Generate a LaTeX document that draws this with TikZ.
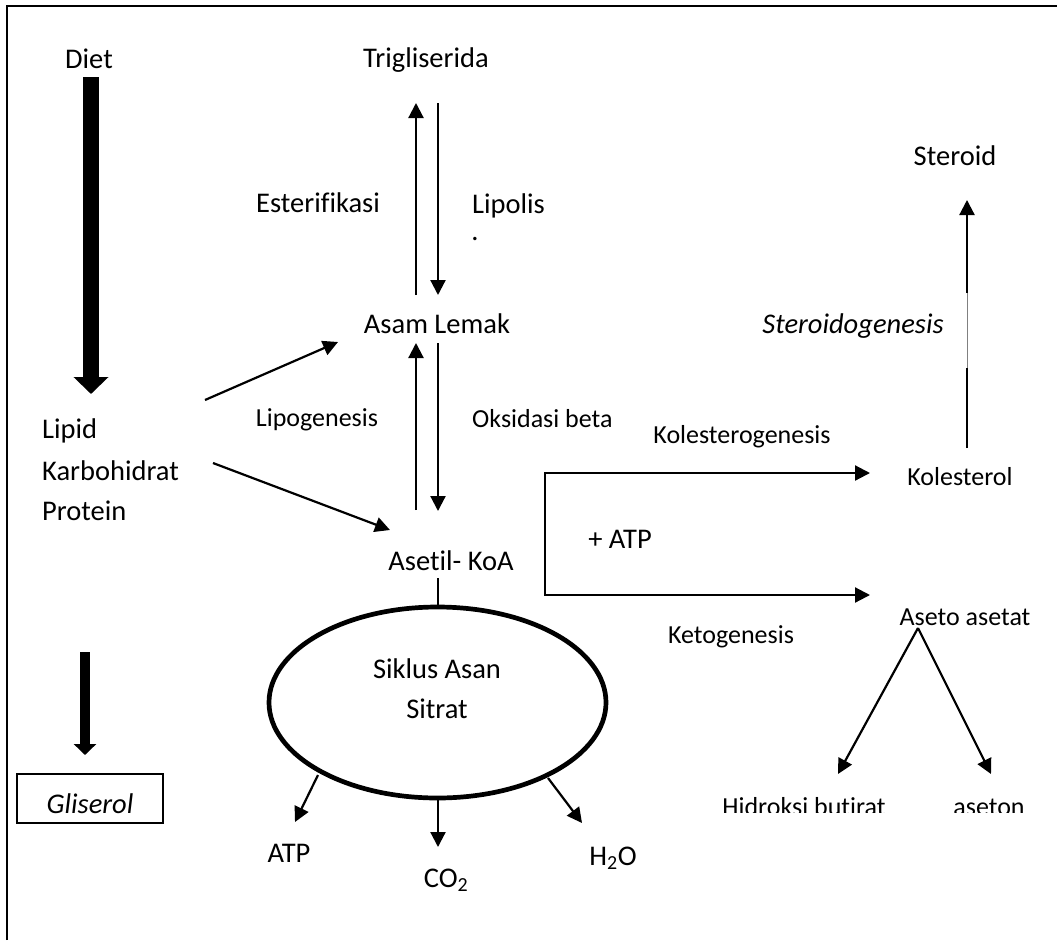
\documentclass[tikz,border=0pt]{standalone}
\usepackage{fontspec}
\setmainfont[Ligatures={NoCommon}]{Carlito}
\usetikzlibrary{arrows.meta,shapes.geometric}
\begin{document}
\begin{tikzpicture}[x=1pt,y=-1pt,
  big/.style={font=\fontsize{28.5}{34}\selectfont, inner sep=0pt, anchor=base},
  bigl/.style={big, anchor=base west},
  small/.style={font=\fontsize{26}{31}\selectfont, inner sep=0pt, anchor=base},
  smalll/.style={small, anchor=base west},
  arr/.style={line width=2.2pt, -{Triangle[length=15pt,width=15pt]}},
  thinline/.style={line width=1.6pt},
  fatdiet/.style={line width=16pt, -{Triangle[length=17pt,width=34pt]}},
  fatgli/.style={line width=10pt, -{Triangle[length=11pt,width=22pt]}},
  frameline/.style={line width=2pt}
]
\useasboundingbox (0,0) rectangle (1057,940);
% frame
\draw[frameline] (7,940) -- (7,6) -- (1057,6);

% texts
\node[big] (diet) at (89,68) {Diet};
\node[big] (trig) at (426,67) {Trigliserida};
\node[big] (ester) at (318,212) {Esterifikasi};
\node[bigl] (lipolis) at (472,213) {Lipolis};
\node[big] (dot) at (475,240) {.};
\node[big] (steroid) at (955,165) {Steroid};
\node[big] (asam) at (437,333) {Asam Lemak};
\node[big] (stgen) at (853,333) {\itshape Steroidogenesis};
\node[bigl] (lipid) at (42,438) {Lipid};
\node[bigl] (karbo) at (42,480) {Karbohidrat};
\node[bigl] (prot) at (42,520) {Protein};
\node[small] (lipogen) at (317,426) {Lipogenesis};
\node[smalll] (oks) at (472,427) {Oksidasi beta};
\node[small] (kolgen) at (742,443) {Kolesterogenesis};
\node[small] (kol) at (960,485) {Kolesterol};
\node[big] (plusatp) at (620,548) {+ ATP};
\node[big] (asetil) at (451,570) {Asetil- KoA};
\node[small] (aseto) at (965,625) {Aseto asetat};
\node[small] (ketogen) at (731,643) {Ketogenesis};
\node[ellipse, draw, line width=4.7pt, minimum width=337pt, minimum height=191pt] (tca) at (437.5,702.5) {};
\node[big] (siklus) at (437,678) {Siklus Asan};
\node[big] (sitrat) at (437,718) {Sitrat};
\node[draw, line width=1.2pt, minimum width=146pt, minimum height=49pt, inner sep=0pt] (glibox) at (90,798.5) {};
\node[big] (gli) at (90,813) {\itshape Gliserol};
\begin{scope}
  \clip (700,700) rectangle (1057,812);
  \node[small] (hidroksi) at (804,815) {Hidroksi butirat};
  \node[small] (aseton) at (989,815) {aseton};
\end{scope}
\node[big] (atp) at (289,862) {ATP};
\node[big] (co2) at (446,887) {CO\textsubscript{2}};
\node[big] (h2o) at (613,865) {H\textsubscript{2}O};

% coordinates for connector ends
\coordinate (dietS) at (91,77);
\coordinate (dietE) at (91,394);
\coordinate (gliS) at (85,652);
\coordinate (gliE) at (85,755);
\coordinate (estS) at (416,295);
\coordinate (estE) at (416,103);
\coordinate (lipS) at (438,103);
\coordinate (lipE) at (438,295);
\coordinate (lgS) at (416,510);
\coordinate (lgE) at (416,343);
\coordinate (obS) at (438,343);
\coordinate (obE) at (438,511);
\coordinate (l1S) at (205,400);
\coordinate (l1E) at (338,342);
\coordinate (l2S) at (213,463);
\coordinate (l2E) at (390,530);
\coordinate (acS) at (438,578);
\coordinate (acE) at (438,607);
\coordinate (brk) at (545,534);
\coordinate (kolIn) at (870,473);
\coordinate (asetoIn) at (870,595);
\coordinate (kolUp) at (967,448);
\coordinate (g1) at (967,368);
\coordinate (g2) at (967,293);
\coordinate (stIn) at (967,200);
\coordinate (apex) at (918,628);
\coordinate (hbIn) at (838,774);
\coordinate (asIn) at (991,774);
\coordinate (atpS) at (318,775);
\coordinate (atpE) at (295,822);
\coordinate (co2S) at (438,800);
\coordinate (co2E) at (438,847);
\coordinate (h2oS) at (548,778);
\coordinate (h2oE) at (582,823);

% connectors
\draw[fatdiet] (dietS) -- (dietE);
\draw[fatgli] (gliS) -- (gliE);
\draw[arr] (estS) -- (estE);
\draw[arr] (lipS) -- (lipE);
\draw[arr] (lgS) -- (lgE);
\draw[arr] (obS) -- (obE);
\draw[arr] (l1S) -- (l1E);
\draw[arr] (l2S) -- (l2E);
\draw[thinline] (acS) -- (acE);
\draw[arr] (brk) |- (kolIn);
\draw[arr] (brk) |- (asetoIn);
\draw[line width=2.2pt] (kolUp) -- (g1);
\draw[line width=1pt, gray] (g1) -- (g2);
\draw[arr] (g2) -- (stIn);
\draw[arr] (apex) -- (hbIn);
\draw[arr] (apex) -- (asIn);
\draw[arr] (atpS) -- (atpE);
\draw[arr] (co2S) -- (co2E);
\draw[arr] (h2oS) -- (h2oE);
\end{tikzpicture}
\end{document}
